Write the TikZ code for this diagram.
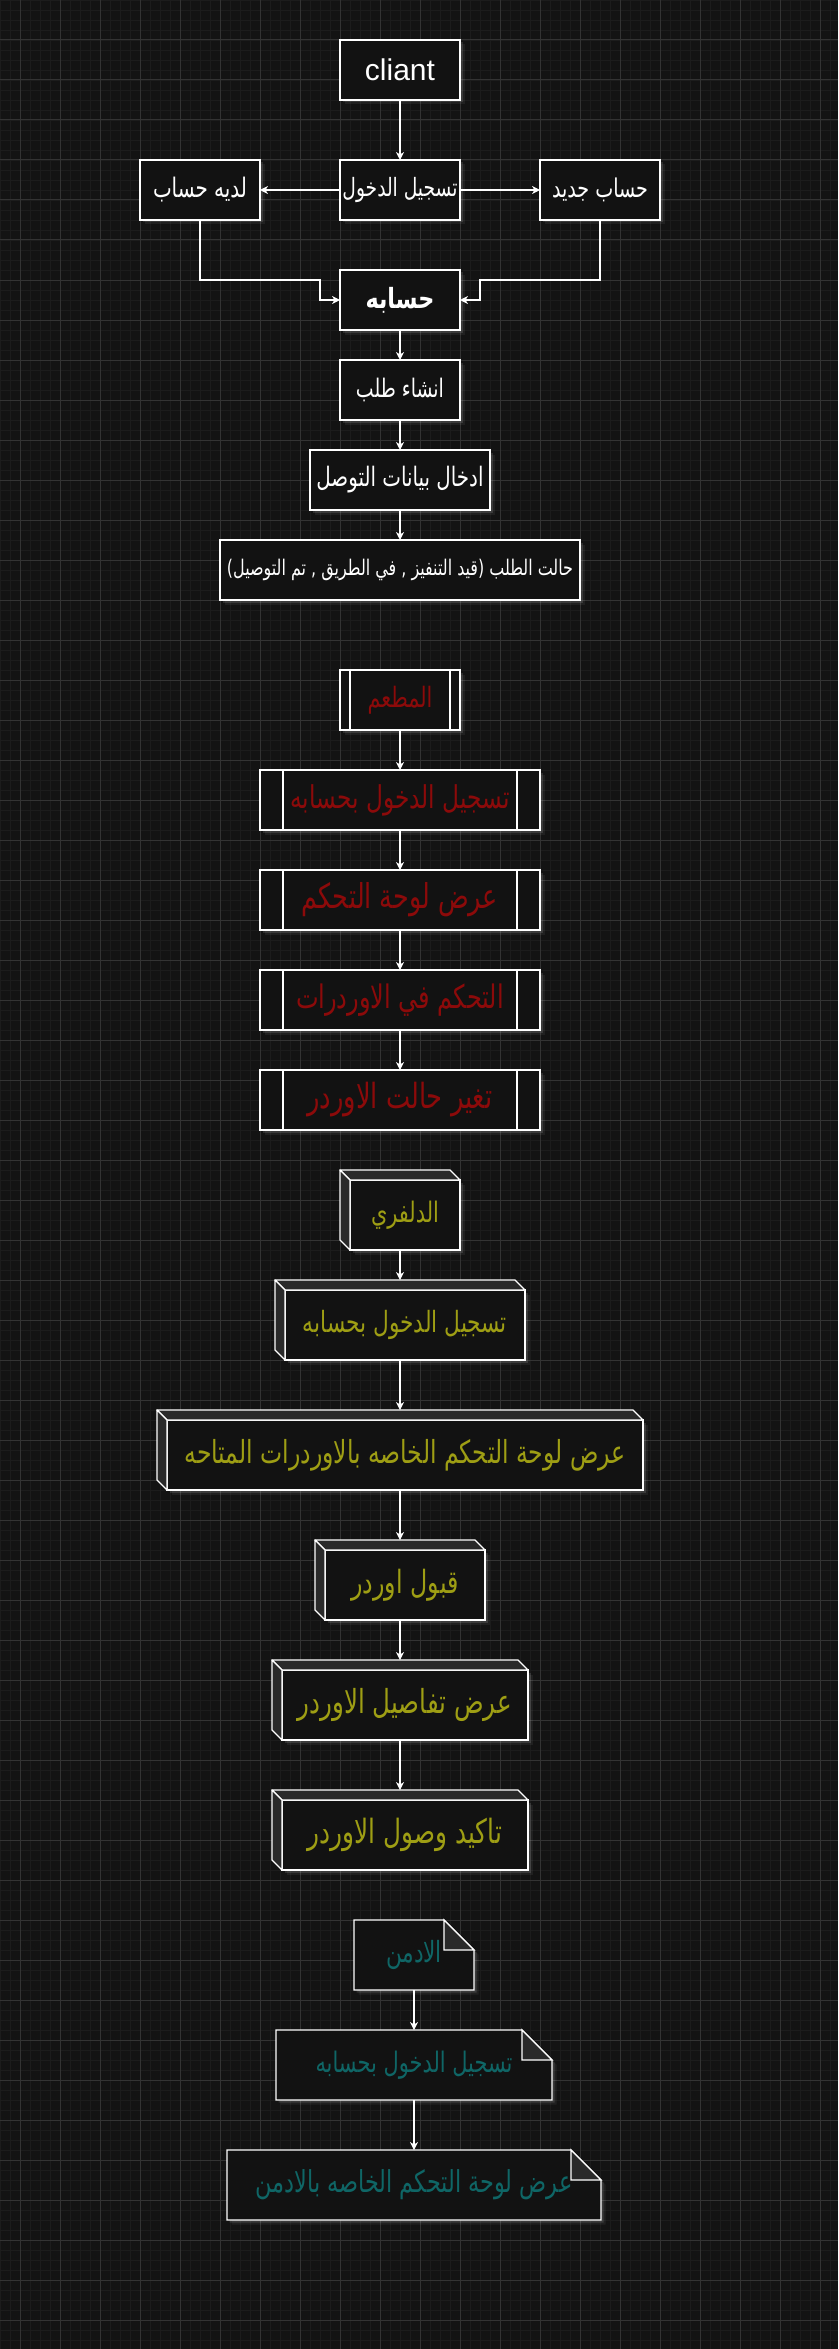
\documentclass[tikz,border=0pt]{standalone}
\usepackage{fontspec}
\usepackage{graphicx}
\usetikzlibrary{arrows.meta,calc,shadows}
\TeXXeTstate=1
\newfontfamily\arabicfont[Script=Arabic]{DejaVu Sans}
\newfontfamily\latinfont{Liberation Sans}
\newcommand{\ar}[2]{\scalebox{1}[1.35]{\resizebox{#1pt}{!}{\arabicfont #2}}}
\newcommand{\arb}[2]{\scalebox{1}[1.25]{\resizebox{#1pt}{!}{\arabicfont\bfseries #2}}}
\definecolor{bgc}{HTML}{131313}
\definecolor{minorc}{HTML}{1C1C1C}
\definecolor{majorc}{HTML}{333333}
\definecolor{boxc}{HTML}{121212}
\definecolor{facec}{HTML}{2A2A2A}
\definecolor{redt}{HTML}{8C0A0A}
\definecolor{yelt}{HTML}{9E9E14}
\definecolor{tealt}{HTML}{0F6666}
\pgfdeclarelayer{gridlayer}
\pgfdeclarelayer{bglayer}
\pgfsetlayers{gridlayer,bglayer,main}
\newcommand{\cubefaces}[1]{%
  \filldraw[cubeface] (#1.north west) -- ++(-10,-10) -- ($(#1.north east)+(-10,-10)$) -- (#1.north east) -- cycle;
  \filldraw[cubeface] (#1.north west) -- ++(-10,-10) -- ($(#1.south west)+(-10,-10)$) -- (#1.south west) -- cycle;}
\newcommand{\noteshape}[1]{%
  \begin{pgfonlayer}{bglayer}
  \filldraw[noteline,glow] (#1.north west) -- ([xshift=-30pt]#1.north east) -- ([yshift=-30pt]#1.north east) -- (#1.south east) -- (#1.south west) -- cycle;
  \filldraw[noteline,fill=facec] ([xshift=-30pt]#1.north east) -- ([xshift=-30pt,yshift=-30pt]#1.north east) -- ([yshift=-30pt]#1.north east) -- cycle;
  \end{pgfonlayer}}
\begin{document}
\begin{tikzpicture}[x=1pt,y=-1pt,
  glow/.style={drop shadow={shadow xshift=4.5pt,shadow yshift=-4.5pt,fill=white,opacity=0.06},
               drop shadow={shadow xshift=2.5pt,shadow yshift=-2.5pt,fill=white,opacity=0.12}},
  wbox/.style={draw=white,line width=1.3pt,fill=boxc,inner sep=0pt,outer sep=0pt,
               minimum height=60pt,text=white,glow},
  pbox/.style={wbox,text=redt},
  pbars/.style={path picture={
      \draw[white,line width=1.3pt] ([xshift=#1]path picture bounding box.north west) -- ([xshift=#1]path picture bounding box.south west);
      \draw[white,line width=1.3pt] ([xshift=-#1]path picture bounding box.north east) -- ([xshift=-#1]path picture bounding box.south east);}},
  cbox/.style={draw=white,line width=1.3pt,fill=boxc,inner sep=0pt,outer sep=0pt,
               minimum height=70pt,text=yelt,glow},
  cubeface/.style={draw=white,line width=1.3pt,fill=facec,line join=round},
  nbox/.style={draw=none,inner sep=0pt,outer sep=0pt,minimum height=70pt,text=tealt},
  noteline/.style={draw=white,line width=1.3pt,fill=boxc,line join=miter},
  arr/.style={draw=white,line width=1.2pt,-{Stealth[length=8pt,width=8pt,inset=2.5pt]}}
]
\useasboundingbox (0,0) rectangle (838,2349);
\begin{pgfonlayer}{gridlayer}
  \fill[bgc] (0,0) rectangle (838,2349);
  \foreach \x in {0,10,...,830} \draw[minorc,line width=0.8pt] (\x,0) -- (\x,2349);
  \foreach \y in {0,10,...,2340} \draw[minorc,line width=0.8pt] (0,\y) -- (838,\y);
  \foreach \x in {20,60,...,820} \draw[majorc,line width=1pt] (\x,0) -- (\x,2349);
  \foreach \y in {0,40,...,2320} \draw[majorc,line width=1pt] (0,\y) -- (838,\y);
\end{pgfonlayer}

% ---- client section
\node[wbox,minimum width=120pt] (cliant) at (400,70) {\latinfont\fontsize{30}{36}\selectfont cliant};
\node[wbox,minimum width=120pt] (login) at (400,190) {\ar{115}{\beginR تسجيل الدخول\endR}};
\node[wbox,minimum width=120pt] (has) at (200,190) {\ar{94}{\beginR لديه حساب\endR}};
\node[wbox,minimum width=120pt] (new) at (600,190) {\ar{96}{\beginR حساب جديد\endR}};
\node[wbox,minimum width=120pt] (acc) at (400,300) {\arb{69}{\beginR حسابه\endR}};
\node[wbox,minimum width=120pt] (order) at (400,390) {\ar{88}{\beginR انشاء طلب\endR}};
\node[wbox,minimum width=180pt] (data) at (400,480) {\ar{167}{\beginR ادخال بيانات التوصل\endR}};
\node[wbox,minimum width=360pt] (status) at (400,570) {\ar{346}{\beginR حالت الطلب (قيد التنفيز , في الطريق , تم التوصيل)\endR}};

\draw[arr] (cliant) -- (login);
\draw[arr] (login) -- (has);
\draw[arr] (login) -- (new);
\draw[arr] (has.south) -- ++(0,60) -| ($(acc.west)+(-20,0)$) -- (acc.west);
\draw[arr] (new.south) -- ++(0,60) -| ($(acc.east)+(20,0)$) -- (acc.east);
\draw[arr] (acc) -- (order);
\draw[arr] (order) -- (data);
\draw[arr] (data) -- (status);

% ---- restaurant section
\node[pbox,pbars=10pt,minimum width=120pt] (rest) at (400,700) {\ar{65}{\beginR المطعم\endR}};
\node[pbox,pbars=23pt,minimum width=280pt] (r1) at (400,800) {\ar{219}{\beginR تسجيل الدخول بحسابه\endR}};
\node[pbox,pbars=23pt,minimum width=280pt] (r2) at (400,900) {\ar{196}{\beginR عرض لوحة التحكم\endR}};
\node[pbox,pbars=23pt,minimum width=280pt] (r3) at (400,1000) {\ar{208}{\beginR التحكم في الاوردرات\endR}};
\node[pbox,pbars=23pt,minimum width=280pt] (r4) at (400,1100) {\ar{185}{\beginR تغير حالت الاوردر\endR}};
\draw[arr] (rest) -- (r1);
\draw[arr] (r1) -- (r2);
\draw[arr] (r2) -- (r3);
\draw[arr] (r3) -- (r4);

% ---- delivery section
\node[cbox,minimum width=110pt] (del) at (405,1215) {\ar{68}{\beginR الدلفري\endR}};
\cubefaces{del}
\node[cbox,minimum width=240pt] (d1) at (405,1325) {\ar{204}{\beginR تسجيل الدخول بحسابه\endR}};
\cubefaces{d1}
\node[cbox,minimum width=476pt] (d2) at (405,1455) {\ar{441}{\beginR عرض لوحة التحكم الخاصه بالاوردرات المتاحه\endR}};
\cubefaces{d2}
\node[cbox,minimum width=160pt] (d3) at (405,1585) {\ar{107}{\beginR قبول اوردر\endR}};
\cubefaces{d3}
\node[cbox,minimum width=246pt] (d4) at (405,1705) {\ar{214}{\beginR عرض تفاصيل الاوردر\endR}};
\cubefaces{d4}
\node[cbox,minimum width=246pt] (d5) at (405,1835) {\ar{194}{\beginR تاكيد وصول الاوردر\endR}};
\cubefaces{d5}
\draw[arr] ($(del.south)+(-5,0)$) -- ($(d1.north)+(-5,-10)$);
\draw[arr] ($(d1.south)+(-5,0)$) -- ($(d2.north)+(-5,-10)$);
\draw[arr] ($(d2.south)+(-5,0)$) -- ($(d3.north)+(-5,-10)$);
\draw[arr] ($(d3.south)+(-5,0)$) -- ($(d4.north)+(-5,-10)$);
\draw[arr] ($(d4.south)+(-5,0)$) -- ($(d5.north)+(-5,-10)$);

% ---- admin section
\node[nbox,minimum width=120pt] (adm) at (414,1955) {\ar{56}{\beginR الادمن\endR}};
\noteshape{adm}
\node[nbox,minimum width=276pt] (a1) at (414,2065) {\ar{197}{\beginR تسجيل الدخول بحسابه\endR}};
\noteshape{a1}
\node[nbox,minimum width=374pt] (a2) at (414,2185) {\ar{317}{\beginR عرض لوحة التحكم الخاصه بالادمن\endR}};
\noteshape{a2}
\draw[arr] (adm) -- (a1);
\draw[arr] (a1) -- (a2);
\end{tikzpicture}
\end{document}
